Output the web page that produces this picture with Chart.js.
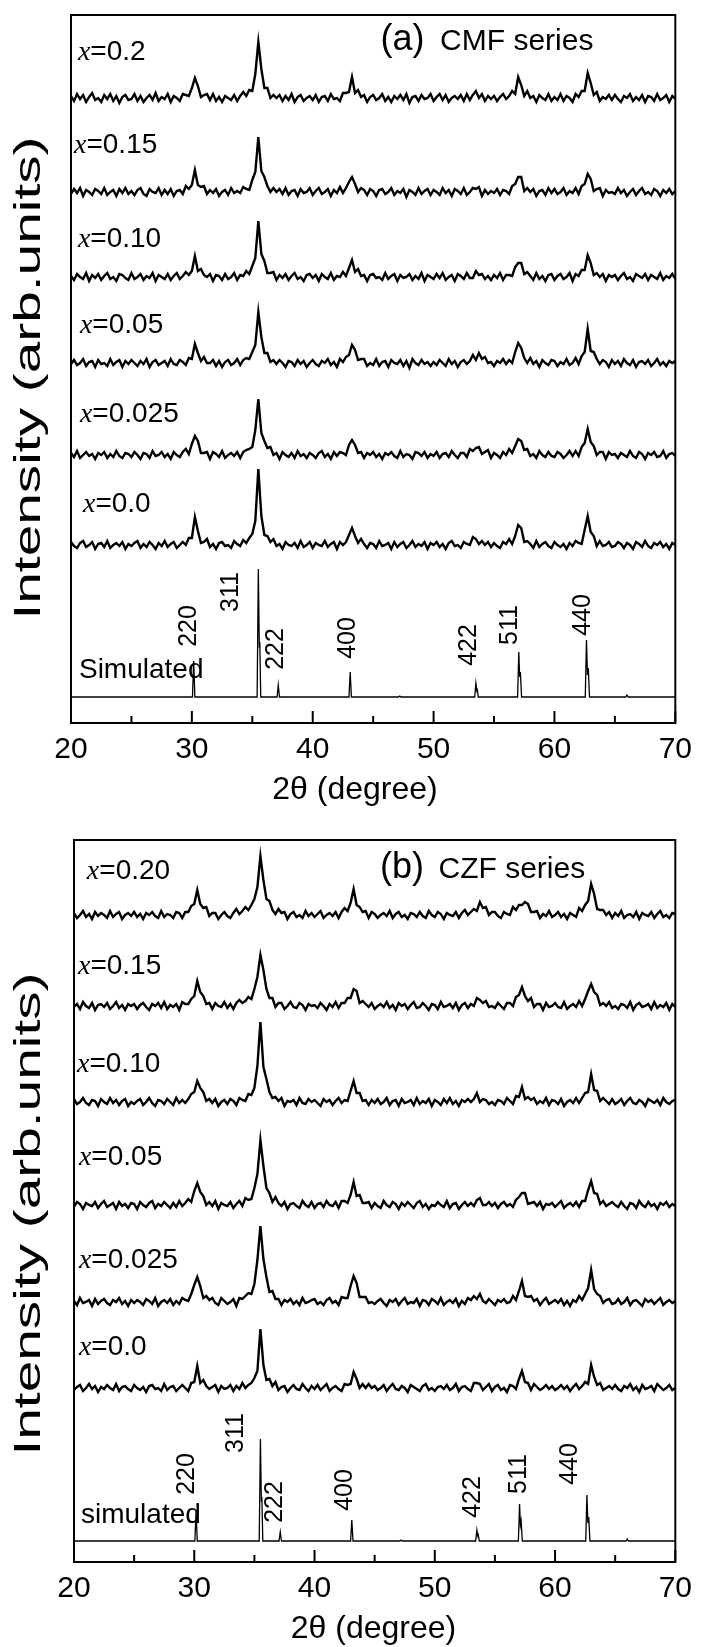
<!DOCTYPE html>
<html>
<head>
<meta charset="utf-8">
<script src="https://cdn.jsdelivr.net/npm/chart.js@4/dist/chart.umd.min.js"></script>
<style>
  body { margin: 0; background: #fff; }
  canvas { display: block; }
</style>
</head>
<body>
<canvas id="cmf_panel" width="701" height="820"></canvas>
<canvas id="czf_panel" width="701" height="827"></canvas>
<script>
  const SANS = '"Liberation Sans", Arial, sans-serif'
  const SERIF = '"Liberation Serif", "Times New Roman", serif'

  // scan: 20..70 deg 2theta, 0.25 deg step; counts are above each pattern's own baseline
  const scanStart = 20
  const scanStep = 0.25

  // (a) CMF series
  const cmf_0_2 = [
    2,-3,4,-1,3,-4,1,5,-2,0,-4,3,-1,4,-3,2,-5,1,3,-2,
    -1,4,-3,2,-4,0,3,-2,5,-3,1,-1,4,-4,2,0,-3,4,3,2,
    10,20,12,1,3,4,-2,4,-3,1,-4,2,0,-2,3,-3,2,6,2,8,
    7,24,56,29,10,10,0,3,0,3,-3,2,-2,4,-4,1,3,-3,0,2,
    -2,3,-4,1,2,-3,4,-1,0,-3,5,5,6,21,5,8,1,3,-4,1,
    3,-2,0,4,-3,1,-4,2,-1,3,-2,4,-5,1,2,-3,3,-1,0,4,
    -3,1,4,-2,3,-4,0,2,-1,3,-3,4,-2,3,7,0,4,-3,2,-1,
    2,-3,1,4,-1,2,7,4,21,13,2,7,0,2,-4,3,0,-2,4,-3,
    1,-2,4,-3,2,0,-4,4,1,7,7,25,15,3,6,-3,1,-1,3,-2,
    3,-1,-4,2,0,4,-3,1,-2,3,-4,2,1,-3,4,-2,0,3,-4,2,
    -1]
  const cmf_0_15 = [
    -2,3,-1,4,-4,2,0,-3,3,1,-2,4,-3,0,2,-4,3,-1,4,-2,
    1,-3,2,4,-2,-4,3,0,-1,4,-3,2,-2,3,-4,1,2,-2,6,3,
    7,22,7,5,6,-2,2,-1,3,-4,0,2,-3,4,-1,1,-1,5,3,2,
    12,20,55,21,15,6,0,4,0,3,-2,4,-3,1,2,-4,3,-1,0,4,
    -3,1,4,-2,0,3,-4,2,-1,5,-1,4,10,15,8,0,4,2,-3,3,
    1,-4,2,3,-2,0,4,-3,1,-1,3,-5,2,0,-3,4,-2,1,3,-3,
    2,0,-3,4,-1,2,-4,3,1,-2,4,-3,0,4,3,5,-4,2,-2,1,
    -1,3,-3,2,1,-2,6,8,15,15,1,4,0,3,-4,1,2,-3,4,-1,
    3,-2,0,4,-3,1,-1,4,-2,6,8,18,13,1,3,4,-4,2,-1,0,
    -2,4,-1,2,-4,0,3,-3,1,4,-2,0,-3,3,1,-4,2,-1,3,-2,
    1]
  const cmf_0_10 = [
    1,-3,3,0,-2,4,-4,2,-1,3,-3,1,4,-2,0,-4,3,2,-1,-3,
    4,-2,0,3,-3,1,-1,4,-4,2,0,-2,3,-3,1,4,-2,1,5,2,
    6,21,6,8,2,0,3,-4,2,1,-3,3,-2,0,4,-3,2,1,6,3,
    11,19,56,23,16,4,4,5,-3,2,-1,3,-3,1,4,-2,0,-4,2,3,
    -1,2,-4,3,0,-2,4,-3,1,0,5,1,9,17,5,8,1,2,-4,2,
    3,-1,0,-3,4,-2,1,3,-4,2,-1,0,3,-3,1,-2,4,-4,2,0,
    -2,3,-1,4,-3,0,2,-4,3,1,-2,4,-1,-1,6,2,3,-2,1,-3,
    2,-1,4,-3,2,2,1,10,14,14,3,5,1,-3,4,-2,1,-4,2,3,
    -3,1,3,-2,0,4,-4,3,1,7,7,22,14,2,4,0,3,-4,2,0,
    2,-3,1,4,-2,0,-4,3,1,-1,3,-3,2,0,-2,4,-3,1,-1,3,
    -2]
  const cmf_0_05 = [
    -1,3,-2,0,4,-3,1,2,-4,3,-1,0,-3,4,-2,1,3,-4,2,-1,
    3,0,-3,2,-1,4,-4,1,3,-2,0,2,-3,4,-1,-2,3,1,-2,5,
    4,19,10,2,6,0,0,3,-3,2,-4,1,3,-2,0,4,-2,3,5,4,
    11,18,51,26,10,10,1,3,-1,3,0,-4,2,1,-3,3,-1,2,-4,0,
    3,-1,-3,2,0,4,-2,1,-4,4,1,6,8,18,13,3,4,4,-3,0,
    -2,4,-3,1,2,-4,3,0,-1,3,-3,2,-5,4,0,-2,3,-1,1,-3,
    1,-2,3,0,-3,4,-1,2,-4,1,3,-1,2,8,3,10,4,6,0,1,
    -3,2,0,4,-1,3,0,11,20,15,5,0,5,-1,2,-4,3,0,-2,3,
    2,-3,1,-1,4,-2,0,5,-1,7,11,34,12,11,4,-1,3,1,-4,3,
    -1,2,-3,4,0,-2,3,-4,1,2,-1,3,-3,0,4,-2,1,-3,2,0,
    2]
  const cmf_0_025 = [
    2,-2,4,-3,0,3,-1,1,-4,2,0,3,-3,1,-2,4,-1,-3,2,1,
    -2,3,0,-4,2,1,-3,4,-1,0,3,-2,1,-4,3,0,-2,3,6,1,
    11,19,14,2,2,3,-4,3,1,-2,4,-3,0,2,-1,3,-3,3,5,6,
    8,25,56,22,14,7,8,0,2,-4,3,0,-2,2,-3,4,-1,1,-3,2,
    0,-3,2,4,-2,1,-4,3,-1,3,2,0,10,15,10,2,3,-3,2,0,
    3,-2,1,-4,2,0,3,-1,-3,4,-2,1,0,-4,3,2,-1,3,-3,1,
    -1,3,-3,1,2,-2,4,0,-3,2,2,-2,6,4,7,8,1,3,5,-3,
    2,0,-3,3,0,6,2,9,16,14,5,6,-1,1,-3,4,0,-2,3,-1,
    -2,3,1,-3,0,4,-1,4,-1,8,12,26,13,9,0,3,3,-4,3,0,
    1,-3,2,0,-2,4,-1,-3,3,1,-4,2,0,3,-2,-1,4,-3,1,2,
    -1]
  const cmf_0_0 = [
    3,-1,-3,2,4,-2,0,3,-4,1,2,-2,4,-3,0,2,-1,3,-4,1,
    -1,2,4,-3,1,-2,3,0,-4,2,-1,4,-2,1,3,-3,0,3,0,7,
    7,28,14,2,3,6,-2,1,-4,2,3,-1,0,-3,4,1,-1,5,2,7,
    11,24,76,29,10,9,3,6,-1,1,-4,3,0,-1,2,-3,4,-2,0,3,
    -3,2,0,-1,4,-2,1,3,-4,3,0,3,10,17,9,2,6,1,-3,2,
    1,-3,4,-1,0,2,-4,3,-2,1,3,-3,0,4,-2,1,-1,3,-4,2,
    0,3,-2,1,-4,2,4,-1,0,-3,3,1,0,8,6,1,4,0,3,-2,
    2,-1,-3,3,1,6,1,9,20,17,3,4,1,-3,4,-2,1,3,-1,-3,
    3,0,-2,1,-4,2,-1,4,2,1,15,29,13,9,-1,4,-1,0,3,-2,
    -1,3,1,-3,2,0,-4,3,1,-2,4,-1,-3,2,0,3,-2,1,-4,2,
    0]

  // (b) CZF series
  const czf_0_20 = [
    2,-3,0,4,-2,1,-4,3,-1,2,0,-3,4,-2,1,3,-4,0,2,-1,
    3,-2,1,-4,2,0,3,-1,-3,4,-2,1,0,-3,3,2,-3,3,3,9,
    11,25,11,7,8,-1,2,2,-4,0,3,-1,-3,2,6,1,4,8,5,10,
    16,28,59,35,16,14,5,1,6,2,3,-4,1,3,-2,0,-3,4,-1,2,
    -2,1,4,-3,0,2,-1,3,-3,3,7,4,12,26,10,8,3,4,-3,3,
    1,-3,0,2,-1,4,-3,1,3,-2,0,-4,2,1,-2,3,-1,-3,4,0,
    -2,3,1,-4,2,0,-1,3,-3,2,5,0,3,6,4,13,7,8,0,3,
    3,-1,-3,3,1,0,8,5,10,10,13,11,3,3,4,-3,1,-1,4,-2,
    0,3,-2,1,-4,2,0,-2,7,4,10,14,31,21,6,5,5,0,3,-3,
    2,-1,4,-3,0,1,-2,3,-4,2,0,-1,3,-3,1,4,-2,0,-3,2,
    1]
  const czf_0_15 = [
    -1,2,-3,4,0,-2,3,-4,1,2,-1,3,-3,0,4,-2,1,-4,2,0,
    2,-3,1,3,-1,-4,2,0,3,-2,4,-3,1,-1,2,-4,4,2,2,7,
    10,25,14,10,2,3,-3,3,0,-1,4,-2,2,-3,3,6,3,5,9,7,
    17,29,51,36,17,8,8,-1,3,3,-3,0,4,-1,-2,3,1,-4,2,0,
    1,-2,3,0,-4,2,-1,4,-2,3,3,8,8,17,15,3,5,2,-1,3,
    -3,0,2,-1,4,-2,1,-4,3,0,2,-3,1,4,-2,-1,3,0,-4,2,
    1,-3,4,-1,0,2,-2,3,-4,1,3,-2,2,0,8,6,3,5,-1,0,
    -2,3,0,-3,3,3,0,9,11,19,10,5,8,-1,2,2,-4,3,-1,0,
    3,-1,-2,4,-3,0,2,-1,5,0,7,15,22,14,11,1,3,0,4,-2,
    0,-3,2,1,-2,4,-4,1,3,-1,0,2,-3,4,-2,1,-1,3,-4,2,
    -1]
  const czf_0_10 = [
    3,-2,0,4,-1,-3,2,1,-4,3,0,-2,4,-1,2,-3,1,3,-4,0,
    -2,1,3,-3,0,4,-1,-4,2,1,-2,3,0,-3,4,-1,2,-1,3,8,
    10,21,14,10,1,3,-1,3,-4,0,2,-2,3,1,-3,4,2,1,8,7,
    14,36,80,35,23,10,4,5,1,4,-4,1,0,2,-3,4,-1,-2,3,0,
    2,-1,-4,3,0,2,-3,1,4,-1,2,1,11,21,9,9,1,2,-3,2,
    -1,3,-2,0,4,-3,1,2,-4,3,-1,0,2,-3,4,-2,1,-1,3,-4,
    2,0,-3,3,-1,4,-2,1,-4,2,0,3,0,3,9,0,3,2,-2,0,
    -3,2,1,-2,4,1,-2,6,5,15,3,5,2,4,-2,1,-1,4,-3,2,
    1,-2,3,-4,0,2,-1,4,-1,4,9,10,28,12,11,1,4,1,-2,3,
    -2,0,3,-3,1,4,-1,-2,2,0,-4,3,1,-1,2,-3,4,0,-2,1,
    2]
  const czf_0_05 = [
    -2,3,1,-4,2,0,-1,3,-3,1,4,-2,0,2,-4,3,-1,1,-3,2,
    1,-4,3,0,-2,2,4,-3,1,-1,3,0,-3,2,-2,4,-1,2,6,3,
    14,22,13,9,0,3,-1,4,-4,2,0,-1,3,-3,1,4,-1,7,5,6,
    17,31,65,39,17,12,3,8,2,-1,3,-4,1,2,-1,-3,4,0,-2,3,
    -3,1,2,-2,4,0,-1,3,-3,4,4,2,10,23,9,10,2,2,3,-3,
    2,-1,-3,4,0,-2,3,1,-4,2,-1,3,0,-3,2,4,-2,1,-4,0,
    -1,3,0,-2,4,-3,1,2,-4,0,3,-1,2,-1,5,7,0,0,3,-1,
    2,-3,1,3,-1,1,-2,5,8,12,12,1,2,3,-1,3,-4,1,0,2,
    -2,1,4,-3,0,2,-1,3,-2,4,4,15,24,12,11,1,4,-1,1,3,
    0,-2,3,-1,-4,2,1,-3,4,0,-2,3,-1,1,-4,2,0,3,-2,1,
    -1]
  const czf_0_025 = [
    1,-3,4,-1,0,2,-4,3,-2,1,3,-1,-3,2,0,4,-2,1,-4,2,
    -1,2,0,-3,3,1,-2,4,-4,0,2,-1,3,-3,1,-2,4,2,1,8,
    17,25,16,4,6,2,4,-1,-3,4,1,-2,0,3,-4,4,3,6,9,8,
    18,42,76,43,25,10,11,3,3,-3,2,0,3,-2,1,-3,4,-1,0,2,
    3,-2,0,-3,2,4,-1,1,-3,5,4,4,16,26,19,5,5,5,-1,0,
    -2,1,3,-1,-4,2,0,3,-3,1,4,-2,0,-1,3,-4,2,1,-3,3,
    1,-2,4,-3,0,2,-1,3,-4,1,-2,4,2,6,3,8,1,-1,3,0,
    -3,2,0,3,-1,0,6,2,11,21,6,5,6,1,3,-3,1,4,-2,0,
    2,-1,3,-3,1,-4,2,0,6,2,8,14,32,13,8,6,-1,2,3,-2,
    -1,3,-2,0,4,-3,1,2,-1,-4,3,0,2,-2,1,4,-3,0,2,-1,
    1]
  const czf_0_0 = [
    -2,1,3,-3,0,4,-1,2,-4,1,-1,3,0,-2,4,-3,1,2,-1,-3,
    3,0,-2,1,-4,2,3,-1,0,-3,4,-2,1,2,-3,0,3,0,-3,5,
    6,22,5,8,2,-1,1,3,-4,2,-1,0,3,-3,2,-1,5,0,3,5,
    10,17,59,23,8,9,2,6,-2,1,2,-4,0,3,-1,-2,4,0,-3,2,
    -1,3,-2,1,4,-3,0,2,-1,-3,4,3,4,16,9,0,4,0,4,0,
    2,-2,0,3,-3,1,4,-1,-2,2,0,-4,3,1,-1,-3,2,4,-2,0,
    -3,1,2,-1,3,-2,0,4,-3,1,2,-1,-3,5,5,4,-2,1,4,-3,
    1,3,-2,0,-4,3,2,-1,9,17,6,5,-2,4,1,-2,0,3,-1,2,
    -2,0,3,-1,2,-3,1,4,-1,2,6,4,23,11,3,5,-2,0,2,-1,
    3,-1,-3,2,0,4,-2,1,-4,3,-1,0,2,-3,4,1,-2,0,3,-2,
    0]

  // simulated patterns (stick profile, K-alpha2 shoulders on 311/422/511/440)
  const simTwoTheta = [20, 30.05, 30.15, 30.25, 35.4, 35.5, 35.58, 35.62, 35.7,
    37.05, 37.15, 37.25, 43.0, 43.1, 43.2, 47.1, 47.2, 47.3,
    53.4, 53.5, 53.58, 53.62, 53.7, 56.95, 57.05, 57.12, 57.18, 57.28,
    62.55, 62.65, 62.73, 62.8, 62.9, 65.9, 66.0, 66.1, 70]
  const simCmf = [0, 0, 36, 0, 0, 128, 50, 55, 0,
    0, 12, 0, 0, 25, 0, 0, 1, 0,
    0, 14, 6, 7, 0, 0, 45, 20, 25, 0,
    0, 57, 22, 29, 0, 0, 2, 0, 0]
  const simCzf = [0, 0, 30, 0, 0, 102, 40, 44, 0,
    0, 9, 0, 0, 21, 0, 0, 1, 0,
    0, 11, 5, 6, 0, 0, 37, 16, 20, 0,
    0, 46, 18, 24, 0, 0, 2, 0, 0]

  const cmfPatterns = [cmf_0_2, cmf_0_15, cmf_0_10, cmf_0_05, cmf_0_025, cmf_0_0]
  const czfPatterns = [czf_0_20, czf_0_15, czf_0_10, czf_0_05, czf_0_025, czf_0_0]
  const cmfNames = ['0.2', '0.15', '0.10', '0.05', '0.025', '0.0']
  const czfNames = ['0.20', '0.15', '0.10', '0.05', '0.025', '0.0']
  // vertical stacking offsets (arb. units)
  const cmfOffsets = [625, 531, 446, 360, 268, 178]
  const czfOffsets = [647, 556, 460, 357, 260, 174]
  const cmfSimOffset = 26
  const czfSimOffset = 21
  const hkl = ['220', '311', '222', '400', '422', '511', '440']

  const scanDataset = (counts, offset) => ({
    data: counts.map((c, i) => ({ x: scanStart + i * scanStep, y: offset + c })),
    borderColor: '#000',
    borderWidth: 2.4,
    pointRadius: 0,
    tension: 0
  })

  const simDataset = (counts, offset) => ({
    data: counts.map((c, i) => ({ x: simTwoTheta[i], y: offset + c })),
    borderColor: '#000',
    borderWidth: 1.3,
    pointRadius: 0,
    tension: 0
  })

  const xrdDecor = {
    id: 'xrdDecor',
    afterDatasetsDraw(chart, args, o) {
      const { ctx, chartArea: a, scales: { x, y } } = chart
      ctx.save()
      ctx.strokeStyle = '#000'
      ctx.lineWidth = 2
      ctx.strokeRect(a.left, a.top, a.right - a.left, a.bottom - a.top)
      // ticks point inward, minor ones every 5 degrees
      for (let v = x.min; v <= x.max; v += 5) {
        const px = x.getPixelForValue(v)
        ctx.beginPath()
        ctx.moveTo(px, a.bottom)
        ctx.lineTo(px, a.bottom - (v % 10 === 0 ? 12 : 7))
        ctx.stroke()
      }
      ctx.fillStyle = '#000'
      ctx.textAlign = 'left'
      ctx.textBaseline = 'alphabetic'
      o.samples.forEach((s, i) => {
        let px = x.getPixelForValue(s.x)
        const py = y.getPixelForValue(s.y)
        ctx.font = `italic 28px ${SERIF}`
        ctx.fillText('x', px, py)
        px += ctx.measureText('x').width
        ctx.font = `28px ${SANS}`
        ctx.fillText('=' + o.names[i], px, py)
      })
      ctx.font = `28px ${SANS}`
      ctx.fillText(o.simLabel.text, x.getPixelForValue(o.simLabel.x), y.getPixelForValue(o.simLabel.y))
      ctx.font = `36px ${SANS}`
      ctx.fillText(o.panel.tag, x.getPixelForValue(o.panel.x), y.getPixelForValue(o.panel.y))
      ctx.font = `30px ${SANS}`
      ctx.fillText(o.panel.text, x.getPixelForValue(o.panel.x2), y.getPixelForValue(o.panel.y))

      ctx.textAlign = 'center'
      ctx.textBaseline = 'middle'
      // x title
      ctx.font = `32px ${SANS}`
      ctx.fillText('2θ (degree)', x.getPixelForValue(o.xTitleAt), a.bottom + 67)
      // y title, drawn tall as in the original figure
      ctx.save()
      ctx.translate(30, (a.top + a.bottom) / 2 + o.yTitleShift)
      ctx.rotate(-Math.PI / 2)
      ctx.font = `37px ${SANS}`
      const yTitle = 'Intensity (arb.units)'
      const stretch = 483 / ctx.measureText(yTitle).width
      ctx.scale(stretch, 1)
      ctx.fillText(yTitle, 0, 0)
      ctx.restore()

      ctx.font = `25px ${SANS}`
      o.hklPos.forEach((p, i) => {
        ctx.save()
        ctx.translate(x.getPixelForValue(p[0]), y.getPixelForValue(p[1]))
        ctx.rotate(-Math.PI / 2)
        ctx.fillText(hkl[i], 0, 0)
        ctx.restore()
      })
      ctx.restore()
    }
  }

  const xrdPanel = (canvasId, p) => new Chart(document.getElementById(canvasId), {
    type: 'line',
    data: {
      datasets: p.patterns.map((c, i) => scanDataset(c, p.offsets[i]))
        .concat([simDataset(p.sim, p.simOffset)])
    },
    options: {
      responsive: false,
      animation: false,
      layout: { padding: { top: p.top, right: p.right, left: 0, bottom: 0 } },
      plugins: {
        legend: { display: false },
        tooltip: { enabled: false },
        xrdDecor: p.decor
      },
      scales: {
        x: {
          type: 'linear',
          min: 20,
          max: 70,
          grid: { display: false, drawTicks: false },
          border: { display: false },
          ticks: { stepSize: 10, padding: 9, maxRotation: 0, color: '#000', font: { family: SANS, size: 30 } },
          afterFit: s => { s.height = p.bottomSpace }
        },
        y: {
          min: 0,
          max: p.yMax,
          grid: { display: false, drawTicks: false },
          border: { display: false },
          ticks: { display: false },
          afterFit: s => { s.width = p.left }
        }
      }
    },
    plugins: [xrdDecor]
  })

  xrdPanel('cmf_panel', {
    patterns: cmfPatterns, offsets: cmfOffsets, sim: simCmf, simOffset: cmfSimOffset,
    top: 15, right: 21, left: 71, bottomSpace: 97, yMax: 708,
    decor: {
      names: cmfNames,
      samples: [{ x: 20.57, y: 663 }, { x: 20.25, y: 570 }, { x: 20.57, y: 476 },
        { x: 20.74, y: 390 }, { x: 20.74, y: 301 }, { x: 20.99, y: 211 }],
      simLabel: { text: 'Simulated', x: 20.66, y: 45 },
      panel: { tag: '(a)', text: 'CMF series', x: 45.6, x2: 50.54, y: 673 },
      hklPos: [[29.77, 97], [33.22, 131], [37.0, 74], [42.9, 85], [52.92, 78], [56.29, 98], [62.36, 108]],
      xTitleAt: 43.5,
      yTitleShift: 9
    }
  })

  xrdPanel('czf_panel', {
    patterns: czfPatterns, offsets: czfOffsets, sim: simCzf, simOffset: czfSimOffset,
    top: 20, right: 20, left: 74, bottomSpace: 85, yMax: 722,
    decor: {
      names: czfNames,
      samples: [{ x: 21.07, y: 683 }, { x: 20.33, y: 588 }, { x: 20.25, y: 490 },
        { x: 20.41, y: 397 }, { x: 20.41, y: 294 }, { x: 20.41, y: 207 }],
      simLabel: { text: 'simulated', x: 20.58, y: 39 },
      panel: { tag: '(b)', text: 'CZF series', x: 45.45, x2: 50.31, y: 684 },
      hklPos: [[29.39, 88], [33.51, 129], [36.72, 60], [42.57, 72], [53.2, 65], [56.99, 88], [61.27, 98]],
      xTitleAt: 44.9,
      yTitleShift: 13
    }
  })
</script>
</body>
</html>
